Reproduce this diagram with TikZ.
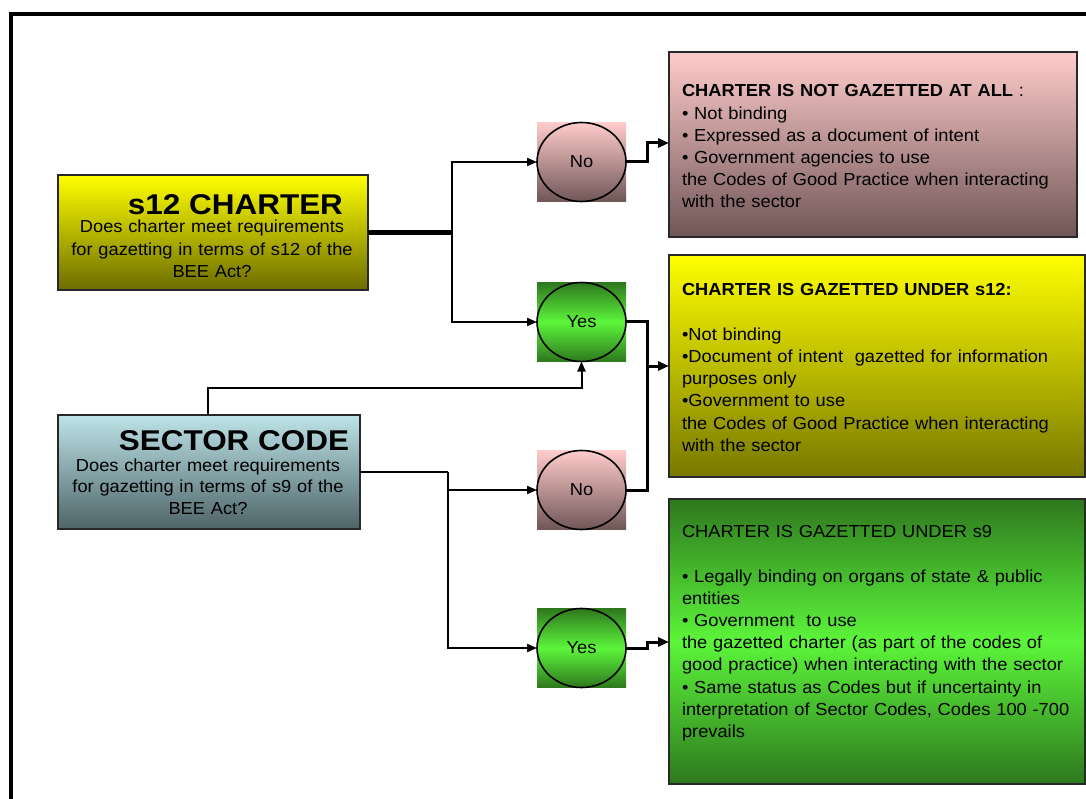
\documentclass[tikz,border=0pt]{standalone}
\usepackage{fontspec}
\setmainfont{Liberation Sans}
\newfontfamily\widesans[FakeStretch=1.1]{Liberation Sans}
\newfontfamily\bodysans[FakeStretch=1.05]{Liberation Sans}
\usetikzlibrary{arrows.meta,shapes.geometric}

\definecolor{ylwtop}{RGB}{255,255,0}
\definecolor{ylwbot}{RGB}{108,108,0}
\definecolor{ylwbotB}{RGB}{120,120,0}
\definecolor{cyantop}{RGB}{190,228,232}
\definecolor{cyanbot}{RGB}{78,100,104}
\definecolor{pinktop}{RGB}{255,204,204}
\definecolor{pinkbot}{RGB}{112,86,86}
\definecolor{grndark}{RGB}{46,120,30}
\definecolor{grnbright}{RGB}{92,245,58}
\definecolor{edge}{RGB}{40,40,40}

\begin{document}
\begin{tikzpicture}[x=1pt,y=-1pt,
  every node/.style={inner sep=0pt, outer sep=0pt},
  body/.style={font=\bodysans\fontsize{17.4}{22.2}\selectfont},
  bigtitle/.style={font=\widesans\fontsize{28.6}{32}\selectfont\bfseries},
  box/.style={draw=edge, line width=1.5pt, rectangle},
  yellowbox/.style={box, top color=ylwtop, bottom color=ylwbot},
  cyanbox/.style={box, top color=cyantop, bottom color=cyanbot},
  pinkfill/.style={top color=pinktop, bottom color=pinkbot},
  greenfill/.style={top color=grndark, bottom color=grndark, middle color=grnbright},
  tilebg/.style={rectangle, minimum width=89pt, minimum height=79pt},
  decision/.style={ellipse, draw=black, line width=1.6pt, minimum width=89pt, minimum height=79pt, body},
  conn/.style={line width=2pt, -{Triangle[length=10pt,width=8pt]}},
  connplain/.style={line width=2pt},
  connout/.style={line width=3pt, -{Triangle[length=11pt,width=9pt]}},
  outtext/.style={body, anchor=base west, text width=400pt, align=left}
]
\useasboundingbox (0,0) rectangle (1086,799);

% outer frame (only the left and top sides fall inside the page)
\draw[line width=4.5pt, line join=miter] (11,805) -- (11,14) -- (1092,14);

% question boxes
\node[yellowbox, minimum width=310pt, minimum height=115pt] (s12) at (213,232.5) {};
\node[cyanbox, minimum width=302pt, minimum height=114pt] (sec) at (209,472) {};
\node[bigtitle, anchor=base] (s12title) at (235.5,215) {s12 CHARTER};
\node[body, anchor=base, text width=300pt, align=center] (s12q) at (212,233)
  {Does charter meet requirements\\for gazetting in terms of s12 of the\\BEE Act?};
\node[bigtitle, anchor=base] (sectitle) at (234,450) {SECTOR CODE};
\node[body, font=\bodysans\fontsize{17.4}{21.2}\selectfont, anchor=base, text width=300pt, align=center] (secq) at (208,471.7)
  {Does charter meet requirements\\for gazetting in terms of s9 of the\\BEE Act?};

% decision tiles
\node[tilebg, pinkfill]  (no1bg)  at (581.5,162) {};
\node[tilebg, greenfill] (yes1bg) at (581.5,322) {};
\node[tilebg, pinkfill]  (no2bg)  at (581.5,490) {};
\node[tilebg, greenfill] (yes2bg) at (581.5,648) {};
\node[decision] (no1)  at (581.5,162) {No};
\node[decision] (yes1) at (581.5,322) {Yes};
\node[decision] (no2)  at (581.5,490) {No};
\node[decision] (yes2) at (581.5,648) {Yes};

% outcome boxes
\node[box, pinkfill, minimum width=408pt, minimum height=185pt] (outA) at (873,144.5) {};
\node[box, top color=ylwtop, bottom color=ylwbotB, minimum width=416pt, minimum height=222pt] (outB) at (877,366) {};
\node[box, greenfill, minimum width=416pt, minimum height=285pt] (outC) at (877,641.5) {};

\node[outtext] (outAtext) at (682,97)
  {\textbf{CHARTER IS NOT GAZETTED AT ALL} :\\
   • Not binding\\
   • Expressed as a document of intent\\
   • Government agencies to use\\
   the Codes of Good Practice when interacting\\
   with the sector};
\node[outtext] (outBtext) at (682,296)
  {\textbf{CHARTER IS GAZETTED UNDER s12:}\\
   \mbox{}\\
   •Not binding\\
   •Document of intent\ \ gazetted for information\\
   purposes only\\
   •Government to use\\
   the Codes of Good Practice when interacting\\
   with the sector};
\node[outtext] (outCtext) at (682,537.7)
  {CHARTER IS GAZETTED UNDER s9\\
   \mbox{}\\
   • Legally binding on organs of state \& public\\
   entities\\
   • Government\ \ to use\\
   the gazetted charter (as part of the codes of\\
   good practice) when interacting with the sector\\
   • Same status as Codes but if uncertainty in\\
   interpretation of Sector Codes, Codes 100 -700\\
   prevails};

% junction points
\coordinate (j1) at (452,232.5);
\coordinate (j2) at (448,472);
\coordinate (sectop) at (208,415);
\coordinate (mergeB) at (647,366);

% s12 branch
\draw[line width=4.5pt] (s12.east) -- (j1);
\draw[conn] (j1) |- (no1.west);
\draw[conn] (j1) |- (yes1.west);

% sector code branch
\draw[conn] (sectop) -- (208,388) -| (yes1.south);
\draw[connplain] (sec.east) -- (j2);
\draw[conn] (j2) |- (no2.west);
\draw[conn] (j2) |- (yes2.west);

% outcome links
\draw[connout] (no1.east) -- (647,162) -- (647,143) -- (outA.west |- 0,143);
\draw[line width=3pt] (yes1.east) -- (647,322) -- (mergeB);
\draw[line width=3pt] (no2.east) -- (647,490) -- (mergeB);
\draw[connout] (mergeB) -- (outB.west);
\draw[connout] (yes2.east) -- (647,648) -- (647,642) -- (outC.west |- 0,642);
\end{tikzpicture}
\end{document}
